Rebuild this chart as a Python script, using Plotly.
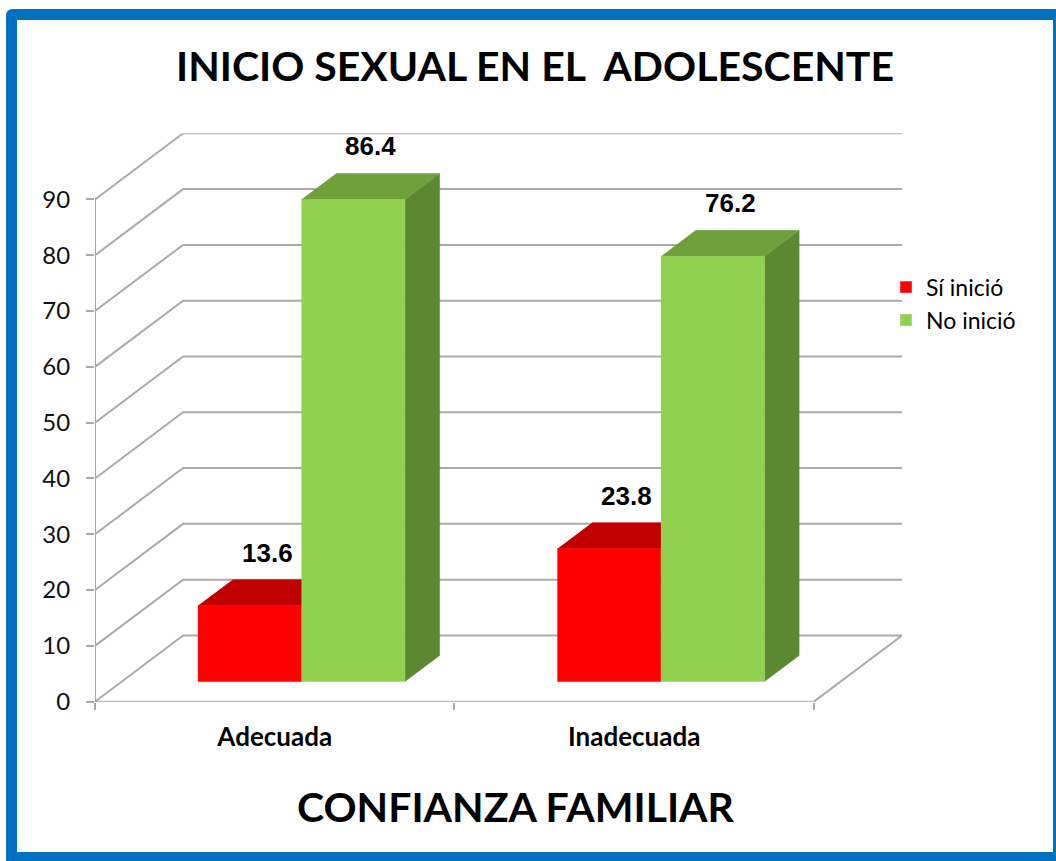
import plotly.graph_objects as go

# ---- data ----
categories = ["Adecuada", "Inadecuada"]
series_names = ["Sí inició", "No inició"]
si_inicio = [13.6, 23.8]
no_inicio = [86.4, 76.2]
y_ticks = [0, 10, 20, 30, 40, 50, 60, 70, 80, 90]

title_text = "INICIO SEXUAL EN EL&nbsp; ADOLESCENTE"
xaxis_title = "CONFIANZA FAMILIAR"

# ---- figure geometry (layout positions given in reference pixels) ----
RW, RH = 1056, 861
FW, FH = 1056, 876


def px(x):
    return x / RW


def py(y):
    return 1 - y / RH


# ---- pseudo-3D geometry ----
DX = 0.245      # depth offset in x units (front -> back wall)
DY = 11.86      # depth offset in y units
T0, T1 = 0.303, 0.697   # bar front / back depth fraction
BW = 0.288      # bar width (category units)
XMAX = 2 + DX
YMAX = y_ticks[-1] + DY

front_cols = ["#ff0000", "#92d050"]
top_cols = ["#c00000", "#70a03c"]
side_cols = ["#a80000", "#5c8832"]
grid_col = "#ababab"

fig = go.Figure()

# gridlines: back wall, left wall, floor
gx, gy = [], []
for v in y_ticks:
    gx += [0, DX, XMAX, None]
    gy += [v, v + DY, v + DY, None]
n = len(categories)
gx += [0, n, n + DX, None, 0, 0, None]
gy += [0, 0, DY, None, 0, y_ticks[-1], None]
fig.add_trace(go.Scatter(x=gx, y=gy, mode="lines", line=dict(color=grid_col, width=2),
                         hoverinfo="skip", showlegend=False))

all_series = [si_inicio, no_inicio]
for s, vals in enumerate(all_series):
    for i, v in enumerate(vals):
        c = i + 0.5
        xl = c - BW + s * BW
        xr = xl + BW
        faces = [
            ([xr + T0 * DX, xr + T1 * DX, xr + T1 * DX, xr + T0 * DX],
             [T0 * DY, T1 * DY, v + T1 * DY, v + T0 * DY], side_cols[s]),
            ([xl + T0 * DX, xr + T0 * DX, xr + T1 * DX, xl + T1 * DX],
             [v + T0 * DY, v + T0 * DY, v + T1 * DY, v + T1 * DY], top_cols[s]),
            ([xl + T0 * DX, xr + T0 * DX, xr + T0 * DX, xl + T0 * DX],
             [T0 * DY, T0 * DY, v + T0 * DY, v + T0 * DY], front_cols[s]),
        ]
        for fx, fy, col in faces:
            fig.add_trace(go.Scatter(x=fx, y=fy, mode="lines", fill="toself", fillcolor=col,
                                     line=dict(color=col, width=0.5), hoverinfo="skip",
                                     showlegend=False))
        fig.add_annotation(x=(xl + xr) / 2 + (T0 + T1) / 2 * DX, y=v + T1 * DY,
                           text=f"{v:.1f}", showarrow=False, yanchor="bottom", yshift=10,
                           font=dict(family="Liberation Sans", size=26, color="#000000", weight="bold"))

# legend entries
for s, name in enumerate(series_names):
    fig.add_trace(go.Bar(x=[None], y=[None], name=name, marker_color=front_cols[s]))

# frame (kept inside the figure)
fig.add_shape(type="path", xref="paper", yref="paper",
              path=f"M {px(6)},0 L {px(6)},{py(16)} Q {px(6)},{py(9)} {px(13)},{py(9)} L 1,{py(9)} L 1,0 Z",
              fillcolor="#0070c0", line_width=0, layer="below")
fig.add_shape(type="rect", xref="paper", yref="paper", x0=px(17), x1=px(1053), y0=py(850),
              y1=py(20), fillcolor="#ffffff", line_width=0, layer="below")

fig.add_annotation(text=xaxis_title, xref="paper", yref="paper", x=px(516), y=py(805),
                   showarrow=False, xanchor="center", yanchor="middle",
                   font=dict(family="Lato", size=41, color="#000000", weight="bold"))

fig.update_layout(
    width=FW, height=FH, autosize=False,
    margin=dict(l=0, r=0, t=0, b=0),
    paper_bgcolor="#ffffff", plot_bgcolor="rgba(0,0,0,0)",
    title=dict(text=title_text, x=px(535), xanchor="center", y=py(66), yanchor="middle",
               font=dict(family="Lato", size=41, color="#000000", weight="bold")),
    barmode="overlay",
    showlegend=True,
    legend=dict(x=px(886), y=py(265), xanchor="left", yanchor="top",
                font=dict(family="Lato", size=23, color="#000000"),
                bgcolor="rgba(0,0,0,0)", itemwidth=30, tracegroupgap=0),
    xaxis=dict(domain=[px(95), px(902)], range=[0, XMAX], showgrid=False, zeroline=False,
               showline=False, tickmode="array", tickvals=[i + 0.5 for i in range(n)],
               ticktext=categories, ticks="", ticklabelstandoff=17,
               tickfont=dict(family="Lato", size=26, color="#000000", weight="bold"),
               minor=dict(tickmode="array", tickvals=list(range(n + 1)), ticks="outside",
                          ticklen=7, tickwidth=2, tickcolor=grid_col, showgrid=False),
               fixedrange=True),
    yaxis=dict(domain=[py(700), py(133)], range=[0, YMAX], showgrid=False,
               zeroline=False, showline=False, tickmode="array", tickvals=y_ticks,
               ticks="outside", ticklen=8, tickwidth=2, tickcolor=grid_col,
               ticklabelstandoff=11,
               tickfont=dict(family="Lato", size=24, color="#111111"), fixedrange=True),
)

fig.write_html("out.html", config={"displayModeBar": False},
               post_script="document.body.style.margin='0';document.body.style.overflow='hidden';")
